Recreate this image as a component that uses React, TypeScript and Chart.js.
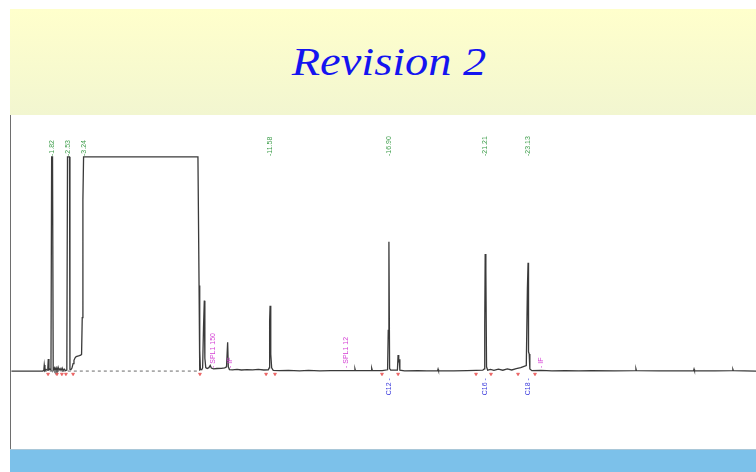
import React, { useEffect, useRef } from "react";
import { Chart, registerables } from "chart.js";

Chart.register(...registerables);

// Detector trace: retention time (min) and signal (% of detector range)
const traceTime = [
  0.0, 1.4, 1.45, 1.47, 1.5, 1.55, 1.6, 1.63, 1.65, 1.68, 1.72, 1.77, 1.8, 1.84, 1.87,
  1.92, 1.95, 2.0, 2.04, 2.09, 2.13, 2.18, 2.22, 2.27, 2.31, 2.36, 2.42, 2.48, 2.51, 2.6,
  2.62, 2.66, 2.71, 2.76, 2.8, 2.85, 2.9, 2.97, 3.04, 3.1, 3.14, 3.17, 3.2, 3.23, 8.35,
  8.4, 8.42, 8.44, 8.46, 8.52, 8.56, 8.6, 8.635, 8.66, 8.7, 8.76, 8.84, 8.9, 8.95, 9.05,
  9.2, 9.4, 9.55, 9.63, 9.68, 9.71, 9.76, 9.9, 10.1, 10.3, 10.55, 10.8, 11.05, 11.3, 11.5,
  11.54, 11.56, 11.58, 11.61, 11.65, 11.72, 12.0, 12.4, 12.9, 13.3, 13.8, 14.3, 14.98, 15.36,
  15.38, 15.4, 16.1, 16.13, 16.16, 16.6, 16.84, 16.87, 16.9, 16.93, 16.98, 17.28, 17.31, 17.34, 17.36,
  17.39, 17.6, 18.2, 18.6, 19.08, 19.1, 19.12, 19.8, 20.4, 20.8, 21.1, 21.17, 21.19, 21.21, 21.24,
  21.27, 21.32, 21.45, 21.6, 21.8, 22.0, 22.2, 22.4, 22.6, 22.8, 22.95, 23.05, 23.1, 23.13, 23.15,
  23.18, 23.21, 23.3, 23.7, 24.2, 24.8, 25.4, 26.0, 27.0, 27.94, 27.96, 27.98, 29.0, 30.54, 30.56,
  30.58, 31.5, 32.28, 32.3, 32.32, 33.4,
];
const traceSignal = [
  0, 0, 0.3, 2.8, 0.2, 0.8, 0.4, 1.5, 5.6, 0.6, 0.9, 0.5, 100, 100, 0.4,
  1.5, 0.3, 1.6, 0.2, 1.8, 0.4, 1.2, 0.3, 1.4, 0.2, 0.9, 0.2, 0.5, 100, 100,
  0.8, 0.6, 1.4, 3.5, 5.0, 6.2, 6.8, 7.0, 7.2, 7.4, 7.8, 25, 80, 100, 100,
  40, 0.2, 9.8, 0.8, 0.6, 1.5, 20.7, 32.9, 6, 1.6, 1.2, 1.6, 2.6, 1.4, 1.0,
  1.2, 1.3, 1.5, 2.0, 13.4, 2.0, 0.7, 0.6, 0.8, 0.5, 0.7, 0.6, 0.8, 0.5, 0.6,
  1.5, 23.5, 30.5, 8, 1.5, 0.3, 0.2, 0.3, 0.1, 0.3, 0.1, 0.2, 0.2, 0.2,
  1.0, 0.2, 0.2, 1.3, 0.2, 0.2, 0.6, 19, 60.4, 1.2, 0.4, 0.4, 7.5, 4, 5.5,
  0.4, 0.1, 0.2, 0.1, 0.2, 0.9, 0.2, 0.1, 0.2, 0.3, 0.4, 1.0, 21.5, 54.7, 47,
  2, 0.4, 0.8, 0.3, 0.9, 0.4, 1.0, 0.5, 1.1, 1.6, 2.2, 2.6, 38.8, 50.6, 9,
  8, 1, 0.2, 0.3, 0.1, 0.2, 0.1, 0.2, 0.1, 0.2, 1.0, 0.2, 0.1, 0.2, 0.9,
  0.2, 0.1, 0.2, 0.8, 0.2, 0,
];

// Integration baseline drawn under the solvent region
const baselineTime = [1.45, 8.42];
const baselineSignal = [0, 0];

// Peak start / end events
const eventTimes = [1.64, 2.04, 2.26, 2.44, 2.76, 8.44, 11.4, 11.8, 16.59, 17.31, 20.8, 21.47, 22.68, 23.44];

// Retention time labels
const peakTimes = [1.82, 2.53, 3.24, 11.58, 16.9, 21.21, 23.13];
const peakLabels = ["1.82", "2.53", "3.24", "11.58", "16.90", "21.21", "23.13"];

// Identified compounds
const compoundTimes = [16.9, 21.21, 23.13];
const compoundNames = ["C12", "C16", "C18"];

// Method notes
const noteTimes = [9.02, 9.79, 14.98, 23.71];
const noteLabels = ["SPL1 150", "IF", "SPL1 12", "IF"];

const TIME_MIN = -0.064;
const TIME_MAX = 33.334;
const SIGNAL_MIN = -36.4;
const SIGNAL_MAX = 119.6;

const toPoints = (xs: number[], ys: number[]) => xs.map((x, i) => ({ x, y: ys[i] }));

const labelPlugin = {
  id: "chromLabels",
  afterDatasetsDraw(chart: any) {
    const { ctx } = chart;
    const xs = chart.scales.x;
    const ys = chart.scales.y;
    const vertical = (text: string, px: number, py: number, align: CanvasTextAlign, color: string) => {
      ctx.save();
      ctx.translate(px, py);
      ctx.rotate(-Math.PI / 2);
      ctx.textAlign = align;
      ctx.textBaseline = "middle";
      ctx.fillStyle = color;
      ctx.fillText(text, 0, 0);
      ctx.restore();
    };
    ctx.save();
    ctx.font = "7px 'Liberation Sans', Arial, sans-serif";
    const top = ys.getPixelForValue(100);
    const base = ys.getPixelForValue(0);
    peakTimes.forEach((t, i) => vertical("-" + peakLabels[i], xs.getPixelForValue(t), top - 1, "left", "#3f9e4c"));
    compoundTimes.forEach((t, i) => vertical(compoundNames[i] + " -", xs.getPixelForValue(t), base + 7, "right", "#3c3cdc"));
    noteTimes.forEach((t, i) => vertical("- " + noteLabels[i], xs.getPixelForValue(t), base - 3, "left", "#d43fd4"));
    ctx.restore();
  },
};

function Chromatogram() {
  const canvasRef = useRef<HTMLCanvasElement | null>(null);

  useEffect(() => {
    if (!canvasRef.current) return;
    const chart = new Chart(canvasRef.current, {
      type: "line",
      data: {
        datasets: [
          {
            data: toPoints(traceTime, traceSignal),
            borderColor: "#3a3a3a",
            borderWidth: 1.3,
            pointRadius: 0,
            tension: 0,
            order: 1,
          },
          {
            data: toPoints(baselineTime, baselineSignal),
            borderColor: "#6a6a6a",
            borderWidth: 1,
            borderDash: [3, 3],
            pointRadius: 0,
            order: 2,
          },
          {
            data: eventTimes.map((t) => ({ x: t, y: -1.4 })),
            showLine: false,
            pointStyle: "triangle",
            rotation: 180,
            pointRadius: 1.8,
            pointBackgroundColor: "#e85050",
            pointBorderColor: "#e85050",
            pointBorderWidth: 0.5,
            order: 0,
          },
        ],
      },
      options: {
        responsive: false,
        animation: false,
        parsing: false,
        layout: { padding: 0, autoPadding: false },
        plugins: { legend: { display: false }, tooltip: { enabled: false } },
        scales: {
          x: { type: "linear", min: TIME_MIN, max: TIME_MAX, display: false },
          y: { type: "linear", min: SIGNAL_MIN, max: SIGNAL_MAX, display: false },
        },
      },
      plugins: [labelPlugin],
    } as any);
    return () => chart.destroy();
  }, []);

  return (
    <canvas
      ref={canvasRef}
      width={746}
      height={334}
      style={{ position: "absolute", left: 10, top: 115, width: 746, height: 334 }}
    />
  );
}

export default function App() {
  return (
    <div style={{ position: "fixed", left: 0, top: 0, width: 756, height: 472, background: "#ffffff", overflow: "hidden" }}>
      <div
        style={{
          position: "absolute",
          left: 10,
          top: 9,
          width: 746,
          height: 106,
          background: "linear-gradient(#ffffcc, #f2f6d0)",
        }}
      />
      <div
        style={{
          position: "absolute",
          left: 389,
          top: 42,
          transform: "translateX(-50%) scaleX(1.19)",
          fontFamily: "'Liberation Serif', 'Times New Roman', serif",
          fontStyle: "italic",
          fontSize: 39,
          lineHeight: "39px",
          color: "#1414f0",
          whiteSpace: "nowrap",
        }}
      >
        Revision 2
      </div>
      <Chromatogram />
      <div style={{ position: "absolute", left: 10, top: 115, width: 1, height: 334, background: "#6e6e6e" }} />
      <div
        style={{
          position: "absolute",
          left: 10,
          top: 449,
          width: 746,
          height: 23,
          background: "#7cc1ea",
          borderTop: "1px solid #a9c7d8",
          boxSizing: "border-box",
        }}
      />
    </div>
  );
}
